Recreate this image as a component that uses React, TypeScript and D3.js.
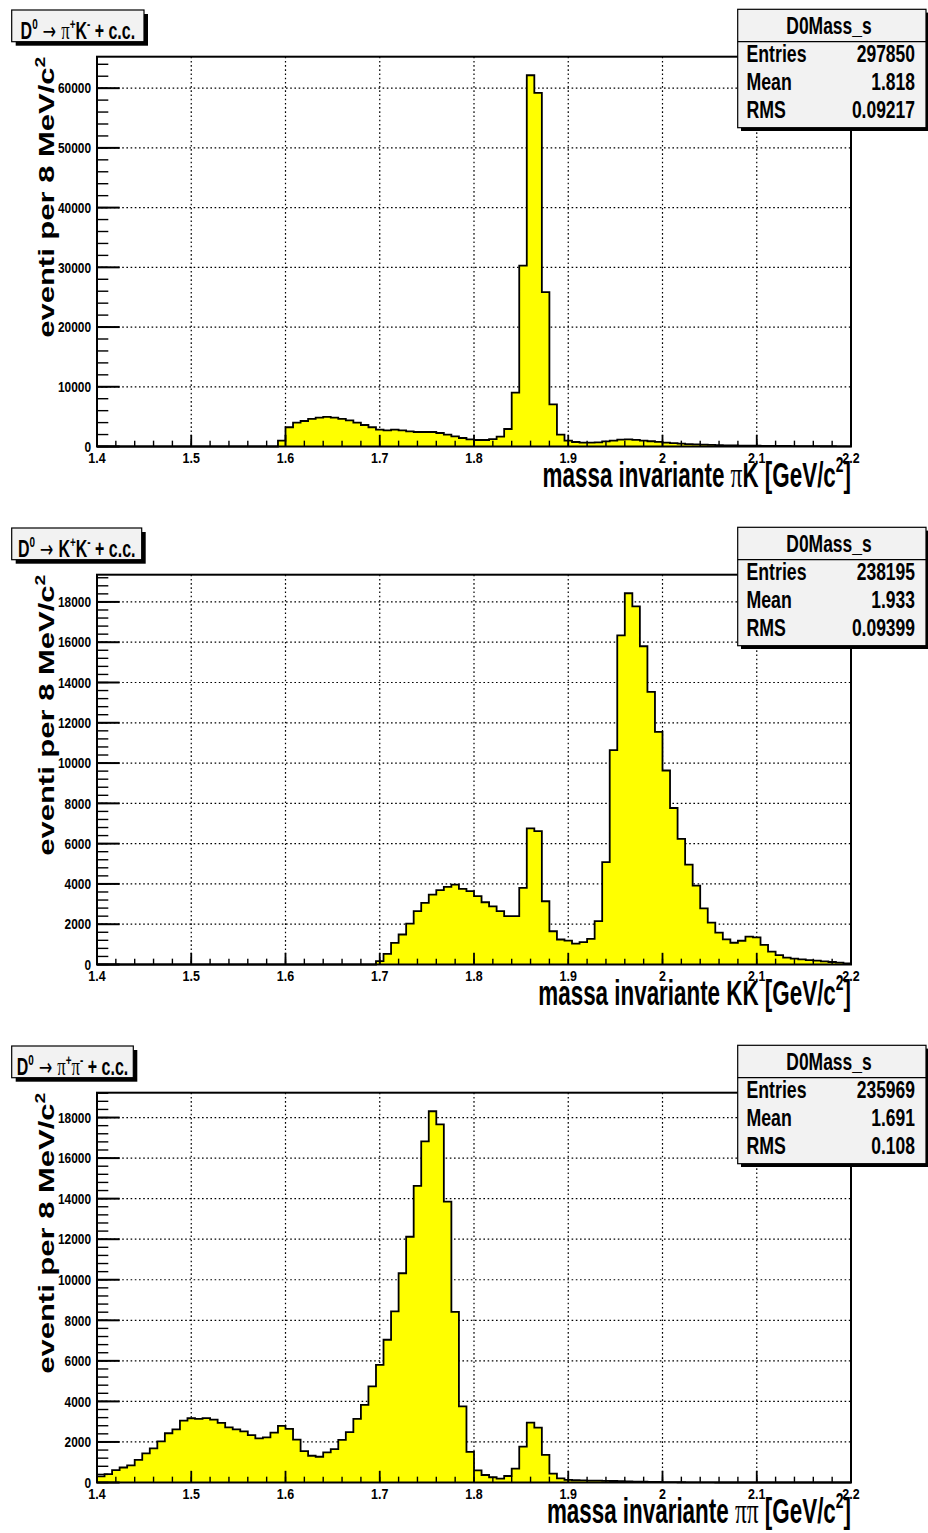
import React from 'react';
import * as d3 from 'd3';

// 100 bins of 8 MeV/c^2 covering 1.4 - 2.2 GeV/c^2
const BIN_LOW = 1.4;
const BIN_WIDTH = 0.008;
const X_MIN = 1.4;
const X_MAX = 2.2;

// D0 -> pi+ K- candidates
const piKCounts = [
  0, 0, 0, 0, 0, 0, 0, 0, 0, 0,
  0, 0, 0, 0, 0, 0, 0, 0, 0, 0,
  0, 0, 0, 0, 970, 3220, 3990, 4270, 4610, 4830,
  4950, 4830, 4610, 4390, 3990, 3600, 3220, 2820, 2700, 2820,
  2700, 2540, 2430, 2430, 2430, 2260, 1980, 1700, 1420, 1200,
  1090, 1090, 1250, 1650, 2930, 9020, 30300, 62160, 59200, 25850,
  7070, 2000, 980, 750, 650, 640, 700, 850, 1000, 1150,
  1200, 1100, 1000, 880, 760, 640, 560, 470, 400, 340,
  300, 260, 230, 200, 180, 160, 140, 125, 110, 100,
  90, 80, 70, 62, 55, 50, 45, 40, 35, 30,
];

// D0 -> K+ K- candidates
const kkCounts = [
  0, 0, 0, 0, 0, 0, 0, 0, 0, 0,
  0, 0, 0, 0, 0, 0, 0, 0, 0, 0,
  0, 0, 0, 0, 0, 0, 0, 0, 0, 0,
  0, 0, 0, 0, 0, 0, 0, 165, 530, 1075,
  1490, 2030, 2650, 3060, 3470, 3690, 3850, 3970, 3750, 3640,
  3390, 3090, 2890, 2650, 2400, 2400, 3800, 6760, 6620, 3140,
  1650, 1240, 1190, 1040, 1110, 1270, 2150, 5080, 10640, 16340,
  18430, 17780, 15800, 13530, 11550, 9630, 7770, 6240, 4960, 3920,
  2790, 2080, 1580, 1250, 1080, 1180, 1380, 1350, 970, 640,
  470, 340, 290, 255, 220, 190, 160, 125, 90, 60,
];

// D0 -> pi+ pi- candidates
const pipiCounts = [
  300, 410, 610, 740, 840, 1120, 1440, 1680, 2030, 2430,
  2620, 3050, 3170, 3140, 3180, 3100, 2940, 2720, 2620, 2520,
  2340, 2180, 2230, 2460, 2790, 2640, 2110, 1550, 1320, 1270,
  1490, 1650, 2100, 2480, 3140, 3830, 4740, 5800, 7040, 8440,
  10320, 12120, 14630, 16820, 18310, 17660, 13850, 8420, 3750, 1510,
  600, 370, 260, 190, 320, 680, 1770, 2950, 2710, 1360,
  440, 205, 125, 110, 100, 95, 90, 85, 75, 65,
  55, 45, 40, 35, 28, 22, 16, 12, 8, 5,
  3, 2, 1, 0, 0, 0, 0, 0, 0, 0,
  0, 0, 0, 0, 0, 0, 0, 0, 0, 0,
];

const xMajorTicks = [1.4, 1.5, 1.6, 1.7, 1.8, 1.9, 2.0, 2.1, 2.2];
const xTickLabels = ['1.4', '1.5', '1.6', '1.7', '1.8', '1.9', '2', '2.1', '2.2'];

const histName = 'D0Mass_s';
const statNames = ['Entries', 'Mean', 'RMS'];
const piKStats = ['297850', '1.818', '0.09217'];
const kkStats = ['238195', '1.933', '0.09399'];
const pipiStats = ['235969', '1.691', '0.108'];

const yAxisTitle = 'eventi per 8 MeV/c';

type Part = { t: string; greek?: boolean; arrow?: boolean; sup?: boolean };

const SANS = '"Liberation Sans", Arial, Helvetica, sans-serif';
const SERIF = '"Liberation Serif", "DejaVu Serif", serif';
const ARROW_FONT = '"DejaVu Sans", sans-serif';

const FRAME_LEFT = 97;
const FRAME_RIGHT = 851;
const FRAME_TOP = 56.7;
const FRAME_BOTTOM = 446.5;

const panels = [
  {
    offset: 0,
    counts: piKCounts,
    stats: piKStats,
    yStep: 10000,
    yMinor: 2000,
    boxWidth: 132.3,
    decay: [{ t: 'π', greek: true }, { t: '+', sup: true }, { t: 'K' }, { t: '-', sup: true }] as Part[],
    pair: [{ t: 'π', greek: true }, { t: 'K' }] as Part[],
  },
  {
    offset: 518,
    counts: kkCounts,
    stats: kkStats,
    yStep: 2000,
    yMinor: 400,
    boxWidth: 130,
    decay: [{ t: 'K' }, { t: '+', sup: true }, { t: 'K' }, { t: '-', sup: true }] as Part[],
    pair: [{ t: 'KK' }] as Part[],
  },
  {
    offset: 1036,
    counts: pipiCounts,
    stats: pipiStats,
    yStep: 2000,
    yMinor: 400,
    boxWidth: 121.6,
    decay: [{ t: 'π', greek: true }, { t: '+', sup: true }, { t: 'π', greek: true }, { t: '-', sup: true }] as Part[],
    pair: [{ t: 'ππ', greek: true }] as Part[],
  },
];

function renderParts(parts: Part[], size: number) {
  let shift = 0;
  return parts.map((p, i) => {
    const target = p.sup ? -size * 0.42 : 0;
    const dy = target - shift;
    shift = target;
    const family = p.arrow ? ARROW_FONT : p.greek ? SERIF : SANS;
    const plain = p.greek || p.arrow;
    return (
      <tspan
        key={i}
        dy={dy}
        fontSize={p.sup ? size * 0.62 : p.greek ? size * 1.05 : size}
        fontFamily={family}
        fontWeight={plain ? 'normal' : 'bold'}
      >
        {p.t}
      </tspan>
    );
  });
}

function SText(props: {
  x: number; y: number; size: number; sx: number;
  anchor?: 'start' | 'middle' | 'end'; rotate?: boolean; dy?: string;
  children: React.ReactNode;
}) {
  const { x, y, size, sx, anchor = 'start', rotate = false, dy, children } = props;
  return (
    <text
      transform={`translate(${x},${y}) scale(${sx},1)${rotate ? ' rotate(-90)' : ''}`}
      fontFamily={SANS}
      fontWeight="bold"
      fontSize={size}
      textAnchor={anchor}
      dy={dy}
      fill="#000"
    >
      {children}
    </text>
  );
}

function Panel({ cfg }: { cfg: (typeof panels)[number] }) {
  const off = cfg.offset;
  const top = off + FRAME_TOP;
  const bottom = off + FRAME_BOTTOM;
  const x = d3.scaleLinear().domain([X_MIN, X_MAX]).range([FRAME_LEFT, FRAME_RIGHT]);
  const yMax = (d3.max(cfg.counts) as number) * 1.05;
  const y = d3.scaleLinear().domain([0, yMax]).range([bottom, top]);

  // stepped outline of the histogram
  const pts: [number, number][] = [[x(X_MIN), y(0)]];
  cfg.counts.forEach((c, i) => {
    const lo = BIN_LOW + i * BIN_WIDTH;
    pts.push([x(lo), y(c)], [x(lo + BIN_WIDTH), y(c)]);
  });
  pts.push([x(X_MAX), y(0)]);
  const outline = d3.line()(pts) as string;

  const yMajors = d3.range(0, yMax + 1e-6, cfg.yStep);
  const yMinors = d3.range(0, yMax, cfg.yMinor);
  const xMinors = d3.range(0, 41).map((i) => X_MIN + i * 0.02);
  const yFmt = d3.format('d');

  const yTickLen = 0.03 * (FRAME_RIGHT - FRAME_LEFT);
  const xTickLen = 0.03 * (FRAME_BOTTOM - FRAME_TOP);

  const statsL = 737.7;
  const statsT = off + 9.3;
  const statsW = 188.3;
  const statsH = 118.4;

  const boxL = 11.7;
  const boxT = off + 10;
  const boxH = 31.7;

  return (
    <g>
      {/* grid */}
      <g stroke="#000" strokeWidth={1.2} strokeDasharray="1.6,2.6">
        {xMajorTicks.slice(1, -1).map((t) => (
          <line key={'gx' + t} x1={x(t)} x2={x(t)} y1={top} y2={bottom} />
        ))}
        {yMajors.slice(1).map((t) => (
          <line key={'gy' + t} x1={FRAME_LEFT} x2={FRAME_RIGHT} y1={y(t)} y2={y(t)} />
        ))}
      </g>

      {/* histogram */}
      <path d={outline + 'Z'} fill="#ffff00" stroke="none" />
      <path d={outline} fill="none" stroke="#000" strokeWidth={1.8} />

      {/* ticks */}
      <g stroke="#000" strokeWidth={1.4}>
        {yMinors.map((t) => (
          <line key={'ym' + t} x1={FRAME_LEFT} x2={FRAME_LEFT + yTickLen / 2} y1={y(t)} y2={y(t)} />
        ))}
        {yMajors.map((t) => (
          <line key={'yM' + t} x1={FRAME_LEFT} x2={FRAME_LEFT + yTickLen} y1={y(t)} y2={y(t)} strokeWidth={2} />
        ))}
        {xMinors.map((t) => (
          <line key={'xm' + t} x1={x(t)} x2={x(t)} y1={bottom} y2={bottom - xTickLen / 2} />
        ))}
        {xMajorTicks.map((t) => (
          <line key={'xM' + t} x1={x(t)} x2={x(t)} y1={bottom} y2={bottom - xTickLen} strokeWidth={1.8} />
        ))}
      </g>

      {/* frame */}
      <rect x={FRAME_LEFT} y={top} width={FRAME_RIGHT - FRAME_LEFT} height={bottom - top} fill="none" stroke="#000" strokeWidth={2} />

      {/* tick labels */}
      {xMajorTicks.map((t, i) => (
        <SText key={'xl' + t} x={x(t)} y={bottom + 16.5} size={14.5} sx={0.86} anchor="middle">
          {xTickLabels[i]}
        </SText>
      ))}
      {yMajors.map((t) => (
        <SText key={'yl' + t} x={91} y={y(t)} size={14.5} sx={0.82} anchor="end" dy="0.36em">
          {yFmt(t)}
        </SText>
      ))}

      {/* axis titles */}
      <SText x={FRAME_RIGHT} y={off + 486.7} size={35} sx={0.64} anchor="end">
        {renderParts([{ t: 'massa invariante ' }, ...cfg.pair, { t: ' [GeV/c' }, { t: '2', sup: true }, { t: ']' }], 35)}
      </SText>
      <SText x={54} y={top} size={31} sx={0.72} anchor="end" rotate>
        {renderParts([{ t: yAxisTitle }, { t: '2', sup: true }], 31)}
      </SText>

      {/* decay title */}
      <rect x={boxL + 4} y={boxT + 4} width={cfg.boxWidth} height={boxH} fill="#000" />
      <rect x={boxL} y={boxT} width={cfg.boxWidth} height={boxH} fill="#f2f2f2" stroke="#000" strokeWidth={1.2} />
      <SText x={boxL + cfg.boxWidth / 2} y={boxT + 29} size={23.5} sx={0.68} anchor="middle">
        {renderParts(
          [{ t: 'D' }, { t: '0', sup: true }, { t: ' → ', arrow: true }, ...cfg.decay, { t: ' + c.c.' }],
          23.5
        )}
      </SText>

      {/* statistics box */}
      <rect x={statsL + 3.3} y={statsT + 3.3} width={statsW} height={statsH} fill="#000" />
      <rect x={statsL} y={statsT} width={statsW} height={statsH} fill="#f2f2f2" stroke="#000" strokeWidth={1.2} />
      <line x1={statsL} x2={statsL + statsW} y1={off + 41.7} y2={off + 41.7} stroke="#000" strokeWidth={1.2} />
      <SText x={829} y={off + 33.5} size={23} sx={0.76} anchor="middle">
        {histName}
      </SText>
      {statNames.map((n, i) => (
        <g key={n}>
          <SText x={746.5} y={off + 62 + i * 28.2} size={23} sx={0.77}>
            {n}
          </SText>
          <SText x={915} y={off + 62 + i * 28.2} size={23} sx={0.76} anchor="end">
            {cfg.stats[i]}
          </SText>
        </g>
      ))}
    </g>
  );
}

export default function App() {
  return (
    <svg
      width={928}
      height={1533}
      viewBox="0 0 928 1533"
      style={{ position: 'absolute', left: 0, top: 0, background: '#fff' }}
    >
      <rect x={0} y={0} width={928} height={1533} fill="#fff" />
      {panels.map((p) => (
        <Panel key={p.offset} cfg={p} />
      ))}
    </svg>
  );
}
